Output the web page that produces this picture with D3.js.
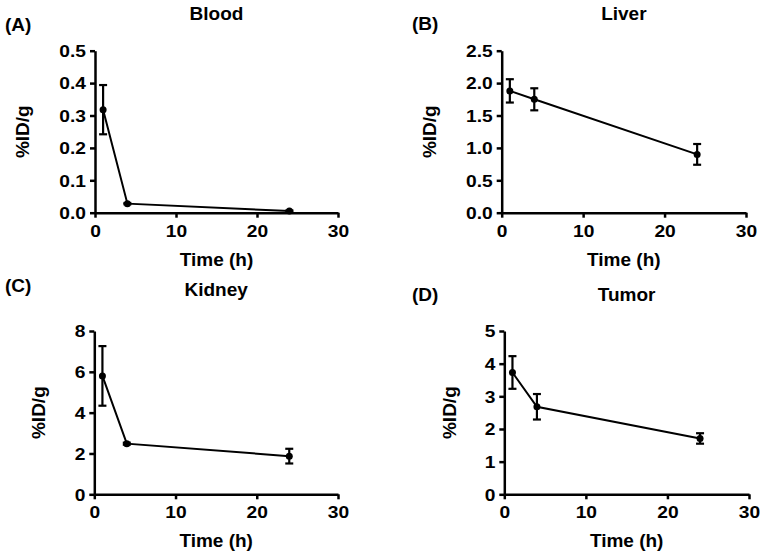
<!DOCTYPE html>
<html><head><meta charset="utf-8">
<script src="https://cdn.jsdelivr.net/npm/d3@7"></script>
<style>body{margin:0;background:#fff}svg{display:block}text{font-family:"Liberation Sans",Arial,sans-serif;font-weight:bold}</style>
</head><body><svg id="c" width="763" height="555"></svg>
<script>
// Data
const times = [1, 4, 24];
const bloodMean = [0.318, 0.028, 0.005];
const bloodSem  = [0.076, 0.002, 0.002];
const liverMean = [1.88, 1.75, 0.90];
const liverSem  = [0.18, 0.17, 0.16];
const kidneyMean = [5.80, 2.48, 1.87];
const kidneySem  = [1.46, 0.05, 0.36];
const tumorMean = [3.73, 2.68, 1.71];
const tumorSem  = [0.50, 0.39, 0.16];
const xTicks = [0, 10, 20, 30];
const bloodTicks = [0, 0.1, 0.2, 0.3, 0.4, 0.5];
const liverTicks = [0, 0.5, 1.0, 1.5, 2.0, 2.5];
const kidneyTicks = [0, 2, 4, 6, 8];
const tumorTicks = [0, 1, 2, 3, 4, 5];
const titles = ["Blood", "Liver", "Kidney", "Tumor"];
const letters = ["(A)", "(B)", "(C)", "(D)"];

const panels = [
  {mean: bloodMean, sem: bloodSem, ticks: bloodTicks, fmt: d3.format(".1f"), ymax: 0.5,
   x0: 95, x1: 338, yb: 212.7, yt: 50.7, letterX: 5, letterY: 31, titleY: 19.5, ylabX: 22},
  {mean: liverMean, sem: liverSem, ticks: liverTicks, fmt: d3.format(".1f"), ymax: 2.5,
   x0: 501.7, x1: 746, yb: 212.7, yt: 50.7, letterX: 412, letterY: 30, titleY: 19.5, ylabX: 429},
  {mean: kidneyMean, sem: kidneySem, ticks: kidneyTicks, fmt: d3.format("d"), ymax: 8,
   x0: 94.3, x1: 338, yb: 494.3, yt: 331, letterX: 5, letterY: 292, titleY: 296, ylabX: 38},
  {mean: tumorMean, sem: tumorSem, ticks: tumorTicks, fmt: d3.format("d"), ymax: 5,
   x0: 504.3, x1: 749, yb: 494.3, yt: 331, letterX: 412, letterY: 301, titleY: 301, ylabX: 449}
];

const SX = 1.2;
const svg = d3.select("#c");
panels.forEach((p, i) => {
  const g = svg.append("g");
  const x = d3.scaleLinear().domain([0, 30]).range([p.x0, p.x1]);
  const y = d3.scaleLinear().domain([0, p.ymax]).range([p.yb, p.yt]);

  const xa = g.append("g").attr("transform", `translate(0,${p.yb})`)
    .call(d3.axisBottom(x).tickValues(xTicks).tickSize(5).tickSizeOuter(0).tickFormat(d3.format("d")));
  const ya = g.append("g").attr("transform", `translate(${p.x0},0)`)
    .call(d3.axisLeft(y).tickValues(p.ticks).tickSize(5).tickPadding(4).tickSizeOuter(0).tickFormat(p.fmt));
  [xa, ya].forEach(a => {
    a.select(".domain").attr("stroke", "#000").attr("stroke-width", 2.5);
    a.selectAll(".tick line").attr("stroke", "#000").attr("stroke-width", 2.5);
    a.selectAll(".tick text").attr("fill", "#000").style("font-size", "16px")
      .attr("transform", `scale(${SX},1)`);
  });
  xa.selectAll(".tick text").attr("y", 24).attr("dy", 0);
  ya.selectAll(".tick text").attr("x", -9 / SX).attr("dy", "0.36em");

  // line
  const pts = times.map((t, j) => [t, p.mean[j], p.sem[j]]);
  g.append("path").datum(pts)
    .attr("d", d3.line().x(d => x(d[0])).y(d => y(d[1])))
    .attr("fill", "none").attr("stroke", "#000").attr("stroke-width", 2);
  // error bars
  const eb = g.selectAll(".eb").data(pts).enter().append("g");
  eb.append("line").attr("x1", d => x(d[0])).attr("x2", d => x(d[0]))
    .attr("y1", d => y(d[1] - d[2])).attr("y2", d => y(d[1] + d[2]))
    .attr("stroke", "#000").attr("stroke-width", 2.2);
  [1, -1].forEach(s => {
    eb.append("line").attr("x1", d => x(d[0]) - 4).attr("x2", d => x(d[0]) + 4)
      .attr("y1", d => y(d[1] + s * d[2])).attr("y2", d => y(d[1] + s * d[2]))
      .attr("stroke", "#000").attr("stroke-width", 2.2);
  });
  eb.append("circle").attr("cx", d => x(d[0])).attr("cy", d => y(d[1])).attr("r", 3.5).attr("fill", "#000");

  // titles
  const cx = (p.x0 + p.x1) / 2;
  g.append("text").attr("x", cx).attr("y", p.titleY).attr("text-anchor", "middle")
    .style("font-size", "19px").text(titles[i]);
  g.append("text").attr("x", p.letterX).attr("y", p.letterY)
    .style("font-size", "19px").text(letters[i]);
  g.append("text").attr("x", cx).attr("y", p.yb + 53).attr("text-anchor", "middle")
    .style("font-size", "19px").text("Time (h)");
  const ym = (p.yt + p.yb) / 2;
  g.append("text").attr("transform", `translate(${p.ylabX},${ym}) rotate(-90)`)
    .attr("text-anchor", "middle").attr("dy", "0.35em")
    .style("font-size", "19px").text("%ID/g");
});
</script></body></html>
